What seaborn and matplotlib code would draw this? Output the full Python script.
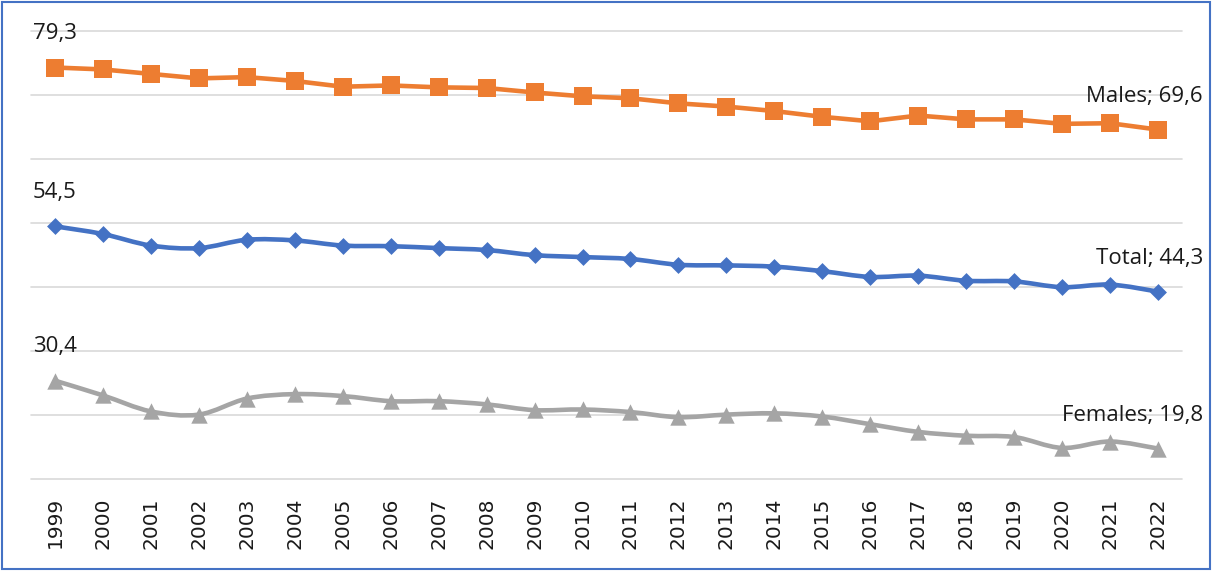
import numpy as np
import pandas as pd
import seaborn as sns
import matplotlib
matplotlib.use("Agg")
import matplotlib.pyplot as plt
from matplotlib.path import Path
from matplotlib.patches import PathPatch, Rectangle

# ---- data -------------------------------------------------------------
years = [str(y) for y in range(1999, 2023)]
males = [79.3, 79.0, 78.3, 77.6, 77.8, 77.2, 76.3, 76.5, 76.2, 76.1, 75.4, 74.8,
         74.5, 73.7, 73.2, 72.5, 71.6, 70.9, 71.8, 71.2, 71.2, 70.5, 70.6, 69.6]
total = [54.5, 53.3, 51.5, 51.1, 52.4, 52.3, 51.5, 51.4, 51.1, 50.8, 50.0, 49.7,
         49.4, 48.5, 48.4, 48.2, 47.5, 46.6, 46.8, 46.0, 45.9, 45.0, 45.4, 44.3]
females = [30.4, 28.1, 25.6, 25.1, 27.6, 28.3, 28.0, 27.2, 27.2, 26.7, 25.8, 25.9,
           25.5, 24.7, 25.1, 25.3, 24.8, 23.6, 22.4, 21.8, 21.6, 19.9, 20.9, 19.8]
series_names = ["Males", "Total", "Females"]

ORANGE = "#ED7D31"
BLUE = "#4472C4"
GREY = "#A5A5A5"
GRID = "#D9D9D9"
TEXT = "#1a1a1a"

sns.set_theme(style="white")
plt.rcParams["font.family"] = ["Open Sans", "DejaVu Sans"]

W, H = 1212, 571
fig = plt.figure(figsize=(W / 100, H / 100), dpi=100)
left, right, top, bottom = 31, 1182, 31, 479.3
ax = fig.add_axes([left / W, 1 - bottom / H, (right - left) / W, (bottom - top) / H])

x = np.arange(len(years))
df = pd.DataFrame({"x": x, "Males": males, "Total": total, "Females": females})


def smooth_path(xs, ys):
    """Cubic Bezier path through the points (Catmull-Rom style smoothing)."""
    pts = np.column_stack([xs, ys]).astype(float)
    n = len(pts)
    verts = [pts[0]]
    codes = [Path.MOVETO]
    for i in range(n - 1):
        p0 = pts[i - 1] if i > 0 else pts[i]
        p1, p2 = pts[i], pts[i + 1]
        p3 = pts[i + 2] if i + 2 < n else pts[i + 1]
        verts += [p1 + (p2 - p0) / 6, p2 - (p3 - p1) / 6, p2]
        codes += [Path.CURVE4] * 3
    return Path(verts, codes)


# Males: straight segments with square markers
sns.lineplot(data=df, x="x", y="Males", ax=ax, color=ORANGE, lw=3.3,
             marker="s", markersize=12.5, markeredgewidth=0, zorder=3)

# Total and Females: smoothed lines with markers on top
for col, color, marker, size in [("Total", BLUE, "D", 8.6),
                                 ("Females", GREY, "^", 11.8)]:
    ax.add_patch(PathPatch(smooth_path(df["x"], df[col]), fill=False,
                           edgecolor=color, lw=3.3, capstyle="round",
                           joinstyle="round", zorder=2))
    sns.scatterplot(data=df, x="x", y=col, ax=ax, color=color, marker=marker,
                    s=size ** 2, linewidth=0, zorder=3)

# ---- axes ---------------------------------------------------------------
ax.set_xlim(-0.5, len(years) - 0.5)
ax.set_ylim(15, 85)
ax.set_yticks(np.arange(15, 86, 10))
ax.set_yticklabels([])
ax.set_xticks(x)
ax.set_xticklabels(years, rotation=90, family=["DejaVu Sans"],
                   fontsize=14.5, color=TEXT)
ax.tick_params(axis="x", length=0, pad=13)
ax.tick_params(axis="y", length=0)
ax.set_xlabel("")
ax.set_ylabel("")
ax.grid(axis="y", color=GRID, lw=1.2)
ax.grid(axis="x", visible=False)
for gl in ax.get_ygridlines():
    gl.set_clip_on(False)
for sp in ax.spines.values():
    sp.set_visible(False)

# ---- data labels ----------------------------------------------------------
label_kw = dict(textcoords="offset pixels", fontsize=16, color=TEXT, va="center")
for name, vals in zip(series_names, [males, total, females]):
    first = f"{vals[0]:.1f}".replace(".", ",")
    ax.annotate(first, xy=(x[0], vals[0]), xytext=(0, 34), ha="center", **label_kw)
    last = f"{name}; " + f"{vals[-1]:.1f}".replace(".", ",")
    ax.annotate(last, xy=(x[-1], vals[-1]), xytext=(45, 33), ha="right", **label_kw)

# ---- chart border ---------------------------------------------------------
fig.patches.append(Rectangle((2 / W, 2 / H), 1 - 4 / W, 1 - 4 / H,
                             transform=fig.transFigure, fill=False,
                             edgecolor=BLUE, lw=1.5))

fig.savefig("out.png", dpi=100, facecolor="white")
